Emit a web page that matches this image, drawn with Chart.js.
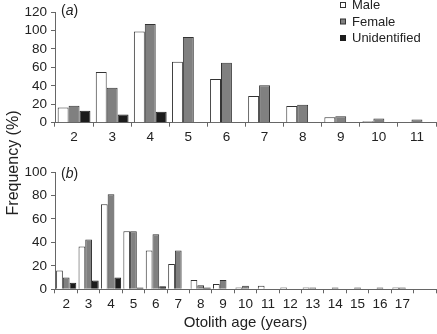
<!DOCTYPE html>
<html>
<head>
<meta charset="utf-8">
<script src="https://cdn.jsdelivr.net/npm/chart.js@4.4.0/dist/chart.umd.min.js"></script>
<style>
  body { margin: 0; background: #fff; }
  #page { position: relative; width: 437px; height: 334px; overflow: hidden; font-family: "Liberation Sans", Arial, sans-serif; color: #222; }
  #boxA { position: absolute; left: 0; top: 0; }
  #boxB { position: absolute; left: 0; top: 160px; }
  .tag { position: absolute; font-size: 14px; line-height: 16px; }
  #ytitle { position: absolute; left: -87px; top: 154px; width: 200px; text-align: center; font-size: 16px; line-height: 18px; transform: rotate(-90deg); }
</style>
</head>
<body>
<div id="page">
  <canvas id="boxA" width="437" height="150"></canvas>
  <canvas id="boxB" width="437" height="174"></canvas>
  <div class="tag" style="left:61px;top:2px">(<i>a</i>)</div>
  <div class="tag" style="left:61px;top:165px">(<i>b</i>)</div>
  <div id="ytitle">Frequency (%)</div>
</div>
<script>
// panel (a)
const agesA = ["2", "3", "4", "5", "6", "7", "8", "9", "10", "11"];
const maleA = [16.5, 55, 99, 66, 47.5, 29, 18, 6, 1.5, 0];
const femaleA = [18.5, 38, 107, 93, 65, 40.5, 19.5, 7, 4.5, 3.5];
const unidA = [13, 9, 12, 0, 0, 0, 0, 0, 0, 0];
const yTicksA = [0, 20, 40, 60, 80, 100, 120];

// panel (b)
const agesB = ["2", "3", "4", "5", "6", "7", "8", "9", "10", "11", "12", "13", "14", "15", "16", "17", ""];
const maleB = [16, 36.5, 72.5, 49.5, 33, 21.5, 8, 4.5, 1.5, 3, 1.5, 1.5, 0, 0, 0, 1.5, 0];
const femaleB = [10, 42.5, 81, 49.5, 47, 33, 3.5, 8, 3, 0, 0, 1.5, 1.5, 1.5, 1.5, 1.5, 0];
const unidB = [5.5, 7.5, 10, 1.5, 2.5, 0, 1.5, 0, 0, 0, 0, 0, 0, 0, 0, 0, 0];
const yTicksB = [0, 20, 40, 60, 80, 100];

const seriesNames = ["Male", "Female", "Unidentified"];
const fills = ["#ffffff", "#808080", "#1c1c1c"];
const edges = ["#333333", "#333333", "#1c1c1c"];
const FONT = "'Liberation Sans', Arial, sans-serif";

// legend drawn in the top-right corner of panel (a)
const cornerLegend = {
  id: "cornerLegend",
  afterDraw(chart) {
    const c = chart.ctx;
    c.save();
    c.font = "13px " + FONT;
    c.textBaseline = "middle";
    chart.data.datasets.forEach((ds, i) => {
      const y = 5 + i * 16.5;
      c.fillStyle = ds.backgroundColor;
      c.fillRect(340.5, y - 2.5, 5, 5);
      c.strokeStyle = ds.borderColor;
      c.lineWidth = 1;
      c.strokeRect(340.5, y - 2.5, 5, 5);
      c.fillStyle = "#222";
      c.fillText(ds.label, 352, y + 0.5);
    });
    c.restore();
  }
};

function makeDatasets(values) {
  return values.map((v, i) => ({
    label: seriesNames[i],
    data: v,
    backgroundColor: fills[i],
    borderColor: edges[i],
    borderWidth: 1,
    borderSkipped: "bottom"
  }));
}

function makeChart(id, labels, values, yMax, yTicks, catPct, padTop, axisH, tickPad, xTitle, plugins) {
  return new Chart(document.getElementById(id), {
    type: "bar",
    data: { labels: labels, datasets: makeDatasets(values) },
    options: {
      responsive: false,
      animation: false,
      layout: { padding: { top: padTop, right: 1, left: 0, bottom: 0 }, autoPadding: false },
      datasets: { bar: { categoryPercentage: catPct, barPercentage: 1 } },
      plugins: { legend: { display: false }, tooltip: { enabled: false } },
      scales: {
        x: {
          offset: true,
          grid: { offset: true, drawOnChartArea: false, tickLength: 4, color: "#666" },
          border: { color: "#666" },
          ticks: { color: "#222", font: { size: 13.5, family: FONT }, padding: tickPad, maxRotation: 0, autoSkip: false },
          title: xTitle ? { display: true, text: xTitle, color: "#222", font: { size: 15, family: FONT }, padding: { top: 0, bottom: 2 } } : { display: false },
          afterFit: s => { s.height = axisH; }
        },
        y: {
          min: 0,
          max: yMax,
          afterBuildTicks: s => { s.ticks = yTicks.map(v => ({ value: v })); },
          grid: { drawOnChartArea: false, tickLength: 4, color: "#666" },
          border: { color: "#666" },
          ticks: { color: "#222", font: { size: 13.5, family: FONT }, padding: 4, autoSkip: false },
          afterFit: s => { s.width = 55; }
        }
      }
    },
    plugins: plugins
  });
}

makeChart("boxA", agesA, [maleA, femaleA, unidA], 120, yTicksA, 0.86, 6, 27.3, 2, null, [cornerLegend]);
makeChart("boxB", agesB, [maleB, femaleB, unidB], 100, yTicksB, 0.9, 12, 44.7, 3, "Otolith age (years)", []);
</script>
</body>
</html>
